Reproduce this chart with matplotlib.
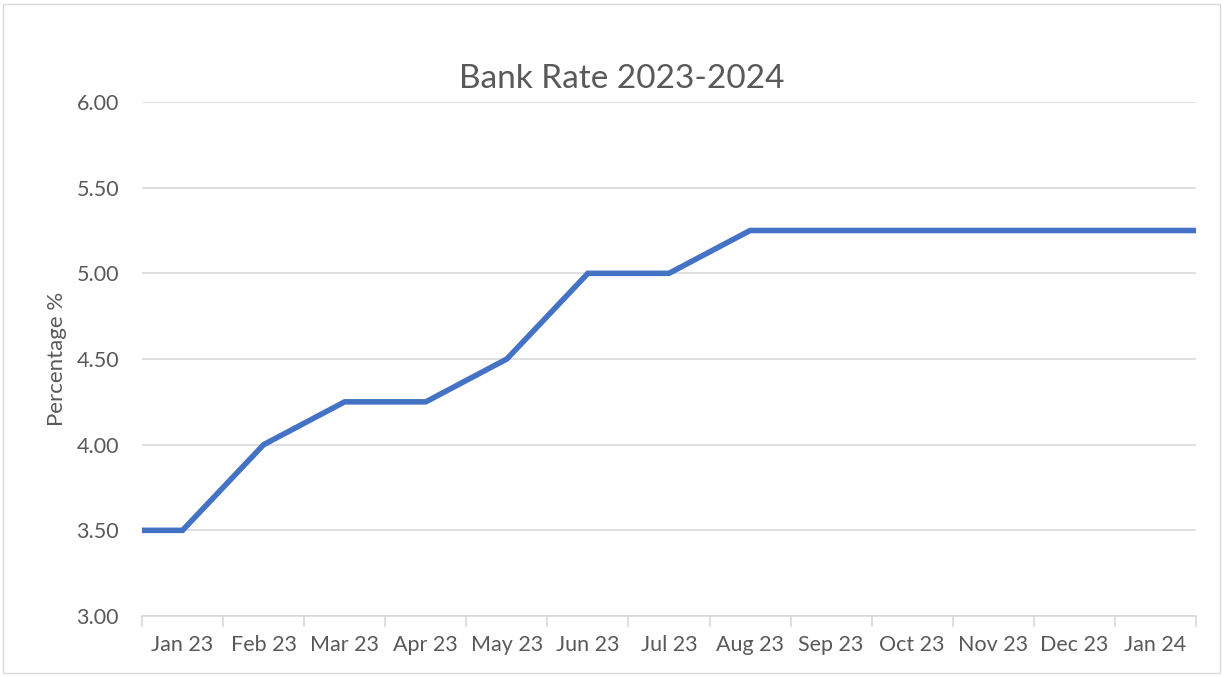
import numpy as np
import matplotlib

matplotlib.use("Agg")
import matplotlib.pyplot as plt  # noqa: E402
from matplotlib.patches import Rectangle  # noqa: E402

months = ["Jan 23", "Feb 23", "Mar 23", "Apr 23", "May 23", "Jun 23", "Jul 23",
          "Aug 23", "Sep 23", "Oct 23", "Nov 23", "Dec 23", "Jan 24"]
rate = [3.50, 4.00, 4.25, 4.25, 4.50, 5.00, 5.00, 5.25, 5.25, 5.25, 5.25, 5.25, 5.25]
y_ticks = [3.00, 3.50, 4.00, 4.50, 5.00, 5.50, 6.00]

INK = "#595959"
GRID = "#d9d9d9"
LINE = "#4472c4"

plt.rcParams["font.family"] = ["Lato", "DejaVu Sans"]

fig = plt.figure(figsize=(12.23, 6.77), dpi=100)
ax = fig.add_axes([142 / 1223, 1 - 616 / 677, (1196 - 142) / 1223, (616 - 102) / 677])

idx = np.arange(len(months))
x0, x1 = -0.5, len(months) - 0.5
# the line runs flat out to both edges of the plot area, as Excel draws it
xs = np.r_[x0, idx, x1]
ys = np.r_[rate[0], rate, rate[-1]]
ax.plot(xs, ys, color=LINE, linewidth=4.0, solid_joinstyle="miter",
        solid_capstyle="butt", clip_on=False, zorder=3)

ax.set_xlim(x0, x1)
ax.set_ylim(y_ticks[0], y_ticks[-1])
ax.set_yticks(y_ticks)
ax.set_yticklabels([f"{v:.2f}" for v in y_ticks])
ax.set_xticks(idx)
ax.set_xticklabels(months)
ax.set_xticks(np.arange(x0, x1 + 0.01, 1.0), minor=True)
ax.tick_params(axis="x", which="major", length=0, pad=14, labelsize=15.5, labelcolor=INK)
ax.tick_params(axis="x", which="minor", length=8, width=1.2, color=GRID, direction="out")
ax.tick_params(axis="y", length=0, pad=16.5, labelsize=15.5, labelcolor=INK)

ax.grid(axis="y", color=GRID, linewidth=1.2)
ax.set_axisbelow(True)
for s in ("top", "right", "left"):
    ax.spines[s].set_visible(False)
ax.spines["bottom"].set_color(GRID)
ax.spines["bottom"].set_linewidth(1.2)

ax.set_ylabel("Percentage %", fontsize=16, color=INK, labelpad=7)
fig.text(622 / 1223, 1 - 79 / 677, "Bank Rate 2023-2024", ha="center", va="center",
         fontsize=24, color=INK)

fig.patches.append(Rectangle((3 / 1223, 4 / 677), 1 - 6 / 1223, 1 - 8 / 677,
                             transform=fig.transFigure, fill=False,
                             edgecolor=GRID, linewidth=1))

fig.savefig("out.png", dpi=100)
